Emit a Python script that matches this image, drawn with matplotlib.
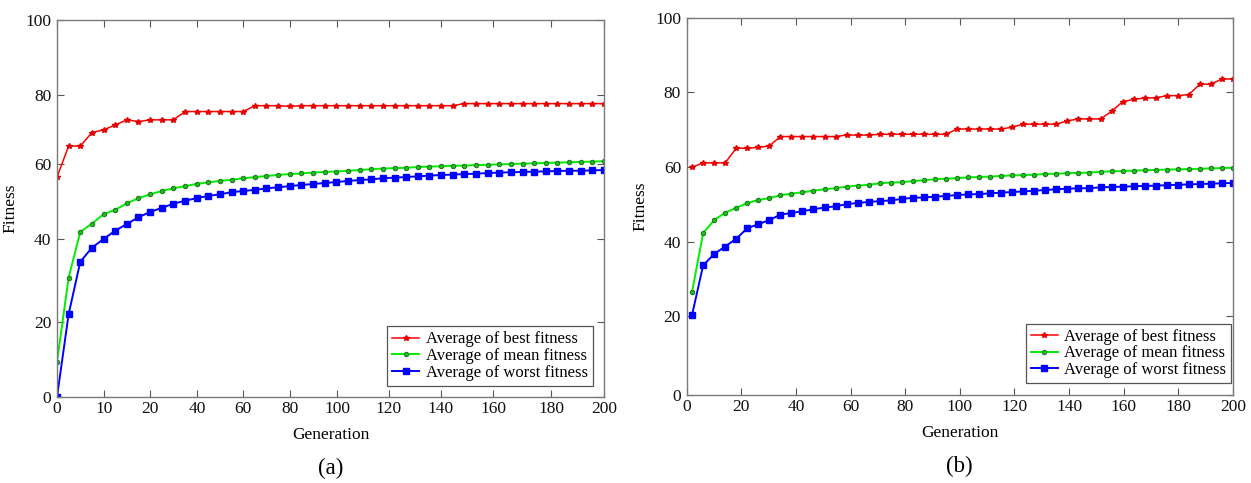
import numpy as np
import matplotlib
matplotlib.use("Agg")
import matplotlib.pyplot as plt

plt.rcParams['font.family'] = ['Liberation Serif', 'DejaVu Serif']

# ---------------- data ----------------
labels = ["Average of best fitness", "Average of mean fitness", "Average of worst fitness"]

# panel (a): 48 samples
best_a = [56.5, 65.2, 65.2, 69.1, 69.9, 71.3, 72.8, 72.3, 72.8, 72.8, 72.8,
          75.2, 75.2, 75.2, 75.2, 75.2, 75.2,
          76.9, 76.9, 76.9, 76.7,
          76.9, 76.9, 76.9, 76.9, 76.9, 76.9, 76.9, 76.9, 76.9, 76.9, 76.9, 76.9, 76.9, 76.9,
          77.5, 77.5, 77.5, 77.5, 77.5, 77.5, 77.5, 77.5, 77.5, 77.5, 77.5, 77.5, 77.5]
mean_a = [9.4, 30.7, 41.9, 44.1, 46.6, 47.8, 49.5, 50.9, 51.9, 52.8, 53.5, 54.1, 54.7,
          55.1, 55.5, 55.8, 56.2, 56.5, 56.8, 57.1, 57.3,
          57.5, 57.7, 57.9, 58.0, 58.2, 58.4, 58.6, 58.8, 58.9, 59.0, 59.2, 59.3, 59.4,
          59.5, 59.6, 59.7, 59.8, 59.9, 60.0, 60.1, 60.2, 60.3, 60.4, 60.5, 60.6, 60.7, 60.8]
worst_a = [0.0, 21.9, 34.5, 37.9, 40.0, 42.2, 44.0, 45.8, 47.2, 48.3, 49.4, 50.2, 50.9,
           51.5, 51.9, 52.5, 52.8, 53.1, 53.5, 53.8, 54.1,
           54.4, 54.67, 54.93, 55.2, 55.47, 55.73, 55.9, 56.2, 56.36, 56.53, 56.7, 56.9,
           57.07, 57.16, 57.33, 57.4, 57.6, 57.7, 57.8, 57.87, 57.96, 58.04, 58.13, 58.2,
           58.2, 58.3, 58.4]

# panel (b): 50 samples
best_b = [60.0, 61.2, 61.2, 61.2, 65.1, 65.1, 65.3, 65.7,
          68.2, 68.2, 68.2, 68.2, 68.2, 68.2, 68.6, 68.6, 68.6,
          68.8, 68.8, 68.8, 68.8, 68.8, 68.8, 68.8,
          70.2, 70.2, 70.2, 70.2, 70.2, 70.7, 71.5, 71.5, 71.5, 71.5, 72.4,
          72.9, 72.9, 72.9, 74.9, 77.5, 78.1, 78.5, 78.5, 79.1, 79.1, 79.4,
          82.2, 82.2, 83.6, 83.6]
mean_b = [26.5, 42.3, 45.8, 47.8, 49.1, 50.4, 51.2, 51.7, 52.5, 52.9, 53.3, 53.7, 54.1,
          54.4, 54.8, 55.1, 55.3, 55.7, 55.9, 56.0, 56.3, 56.5,
          56.8, 56.9, 57.1, 57.3, 57.4, 57.5, 57.7, 57.8, 57.9, 58.0, 58.2, 58.3, 58.4,
          58.5, 58.6, 58.8, 58.9, 59.0, 59.1, 59.2, 59.3, 59.4, 59.45, 59.5, 59.6, 59.7,
          59.8, 59.9]
worst_b = [20.3, 33.6, 36.7, 38.7, 40.8, 43.6, 44.7, 45.8, 47.3, 47.7, 48.2, 48.7, 49.2,
           49.5, 50.1, 50.4, 50.7, 50.9, 51.1, 51.5, 51.8, 51.9,
           52.1, 52.3, 52.55, 52.7, 52.8, 53.0, 53.2, 53.35, 53.5, 53.7, 53.9, 54.1,
           54.25, 54.35, 54.4, 54.6, 54.7, 54.8, 54.9, 55.0, 55.05, 55.2, 55.3, 55.4,
           55.5, 55.6, 55.7, 55.8]

xticks_a = [0, 10, 20, 40, 60, 80, 100, 120, 140, 160, 180, 200]
xticks_b = [0, 20, 40, 60, 80, 100, 120, 140, 160, 180, 200]
yticks = [0, 20, 40, 60, 80, 100]

# axis layout of the (distorted) original panels: relative tick positions (0..1)
xpos_a = (np.array([57, 104, 150, 197, 243, 290, 337, 389, 441, 493, 551, 604]) - 57) / 547.0
ypos_a = (397 - np.array([397, 322, 239, 164, 95, 20])) / 377.0
ypos_b = (395 - np.array([395, 316, 241.7, 167.3, 92.3, 18.3])) / 376.7


def make_scale(ticks, pos):
    t = np.asarray(ticks, float)
    p = np.asarray(pos, float)
    def fwd(v):
        return np.interp(v, t, p)
    def inv(v):
        return np.interp(v, p, t)
    return fwd, inv


fwd_xa, inv_xa = make_scale(xticks_a, xpos_a)
fwd_ya, inv_ya = make_scale(yticks, ypos_a)
fwd_yb, inv_yb = make_scale(yticks, ypos_b)

gen_a = inv_xa(np.linspace(0, 1, len(best_a)))
gen_b = np.linspace(2, 200, len(best_b))

W, H = 1251, 483
fig = plt.figure(figsize=(W / 100, H / 100), dpi=100)

ax_a = fig.add_axes([57 / W, (H - 397) / H, 547 / W, 377 / H])
ax_b = fig.add_axes([686.6 / W, (H - 395) / H, 546.4 / W, 376.7 / H])

styles = [
    dict(color='#ff0000', marker='*', markersize=4.0, markeredgecolor='#e00000', lw=1.1),
    dict(color='#00ee00', marker='o', markersize=3.2, markerfacecolor='#22bb22',
         markeredgecolor='#117711', markeredgewidth=0.7, lw=1.4),
    dict(color='#0000ff', marker='s', markersize=3.8, markeredgecolor='#0000ff', lw=1.4),
]


def setup(ax, x, series, xticks, xscale, yscale, leg_anchor, panel_label):
    for s, lab, st in zip(series, labels, styles):
        ax.plot(x, s, label=lab, **st)
    if xscale is not None:
        ax.set_xscale('function', functions=xscale)
    ax.set_yscale('function', functions=yscale)
    ax.set_xlim(0, 200)
    ax.set_ylim(0, 100)
    ax.set_xticks(xticks)
    ax.set_xticklabels([str(t) for t in xticks])
    ax.set_yticks(yticks)
    ax.set_yticklabels([str(t) for t in yticks])
    ax.minorticks_off()
    for sp in ax.spines.values():
        sp.set_color('#7a7a7a')
        sp.set_linewidth(1.0)
    ax.tick_params(direction='in', length=5, width=0.8, color='#555555',
                   labelsize=12.5, labelcolor='#111111', top=True, right=True)
    ax.tick_params(axis='x', pad=3)
    ax.tick_params(axis='y', pad=4)
    ax.set_xlabel('Generation', fontsize=12.5, labelpad=7)
    ax.set_ylabel('Fitness', fontsize=12.5, labelpad=5)
    leg = ax.legend(loc='lower right', bbox_to_anchor=leg_anchor, borderaxespad=0,
                    fontsize=12, numpoints=1, handlelength=1.6, handletextpad=0.4,
                    labelspacing=0.05, borderpad=0.3, fancybox=False, framealpha=1,
                    edgecolor='#555555')
    leg.get_frame().set_linewidth(0.9)
    ax.text(0.5, -0.19, panel_label, transform=ax.transAxes, ha='center', va='center',
            fontsize=16.5)


setup(ax_a, gen_a, [best_a, mean_a, worst_a], xticks_a, (fwd_xa, inv_xa),
      (fwd_ya, inv_ya), (0.979, 0.029), '(a)')
setup(ax_b, gen_b, [best_b, mean_b, worst_b], xticks_b, None,
      (fwd_yb, inv_yb), (0.997, 0.031), '(b)')

fig.savefig('out.png', dpi=100)
